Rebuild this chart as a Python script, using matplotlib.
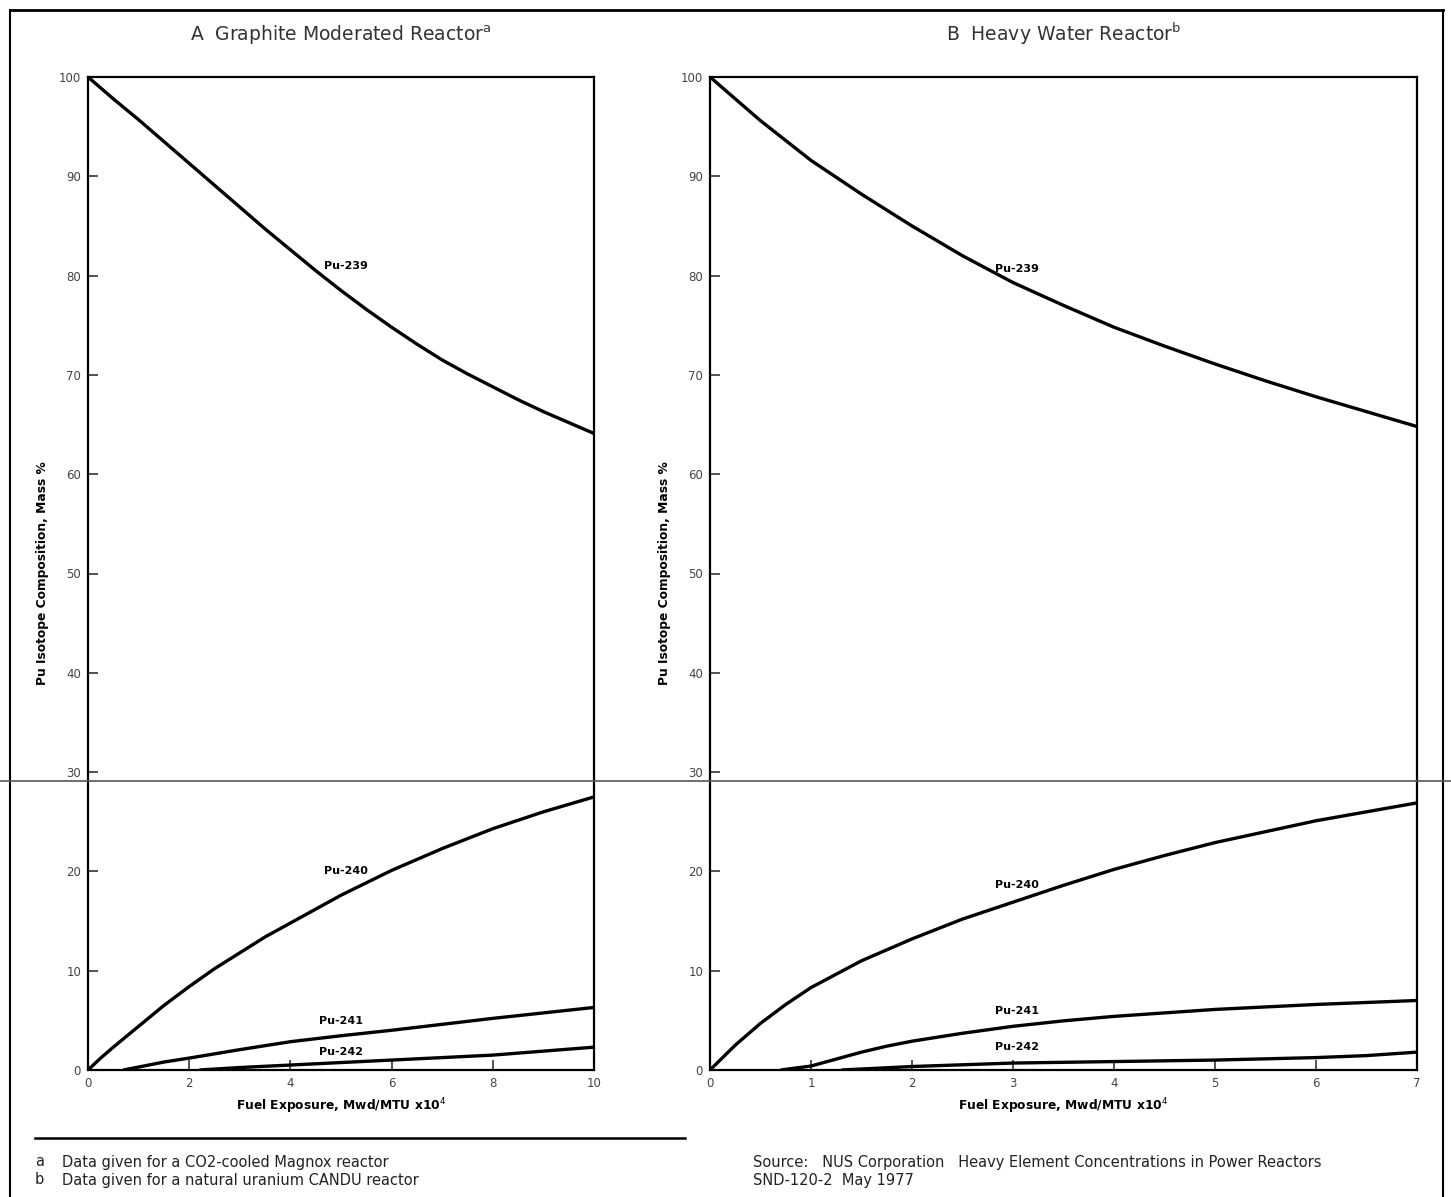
import matplotlib.pyplot as plt
from matplotlib.lines import Line2D

plt.rcParams['font.family'] = ['DejaVu Sans']

# A: graphite moderated reactor (exposure 0..10)
a_x239 = [0, 0.5, 1, 1.5, 2, 2.5, 3, 3.5, 4, 4.5, 5, 5.5, 6, 6.5, 7, 7.5, 8, 8.5, 9, 9.5, 10]
a_y239 = [100, 97.8, 95.7, 93.5, 91.3, 89.1, 86.9, 84.7, 82.6, 80.5, 78.5, 76.6, 74.8, 73.1,
          71.5, 70.1, 68.8, 67.5, 66.3, 65.2, 64.1]
a_x240 = [0, 0.25, 0.5, 1, 1.5, 2, 2.5, 3, 3.5, 4, 4.5, 5, 6, 7, 8, 9, 10]
a_y240 = [0, 1.2, 2.3, 4.4, 6.5, 8.4, 10.2, 11.8, 13.4, 14.8, 16.2, 17.6, 20.1, 22.3, 24.3, 26.0, 27.5]
a_x241 = [0.7, 1, 1.5, 2, 3, 4, 5, 6, 7, 8, 9, 10]
a_y241 = [0, 0.3, 0.8, 1.2, 2.05, 2.85, 3.45, 4.0, 4.6, 5.2, 5.75, 6.3]
a_x242 = [2.2, 3, 4, 5, 6, 7, 8, 9, 10]
a_y242 = [0, 0.25, 0.5, 0.75, 1.0, 1.25, 1.5, 1.9, 2.3]

# B: heavy water reactor (exposure 0..7)
b_x239 = [0, 0.25, 0.5, 0.75, 1, 1.5, 2, 2.5, 3, 3.5, 4, 4.5, 5, 5.5, 6, 6.5, 7]
b_y239 = [100, 97.8, 95.6, 93.6, 91.6, 88.2, 85.0, 82.0, 79.3, 77.0, 74.8, 72.9, 71.1, 69.4,
          67.8, 66.3, 64.8]
b_x240 = [0, 0.25, 0.5, 0.75, 1, 1.5, 2, 2.5, 3, 3.5, 4, 4.5, 5, 5.5, 6, 6.5, 7]
b_y240 = [0, 2.5, 4.7, 6.6, 8.3, 11.0, 13.2, 15.2, 16.9, 18.6, 20.2, 21.6, 22.9, 24.0, 25.1, 26.0, 26.9]
b_x241 = [0.7, 1, 1.25, 1.5, 1.75, 2, 2.5, 3, 3.5, 4, 5, 6, 7]
b_y241 = [0, 0.4, 1.1, 1.8, 2.4, 2.9, 3.7, 4.4, 4.95, 5.4, 6.1, 6.6, 7.0]
b_x242 = [1.3, 2, 3, 4, 5, 6, 6.5, 7]
b_y242 = [0, 0.35, 0.7, 0.85, 1.0, 1.25, 1.45, 1.8]

labels = ['Pu-239', 'Pu-240', 'Pu-241', 'Pu-242']
a_lab_x = [5.1, 5.1, 5.0, 5.0]
a_lab_y = [81.0, 20.0, 4.9, 1.8]
b_lab_x = [3.04, 3.04, 3.04, 3.04]
b_lab_y = [80.7, 18.6, 5.9, 2.3]

fig = plt.figure(figsize=(14.51, 11.97), dpi=100)
ax1 = fig.add_axes([88/1451, 1 - 1070/1197, 506/1451, 993/1197])
ax2 = fig.add_axes([710/1451, 1 - 1070/1197, 707/1451, 993/1197])

panels = [
    (ax1, [(a_x239, a_y239), (a_x240, a_y240), (a_x241, a_y241), (a_x242, a_y242)],
     a_lab_x, a_lab_y, 10, list(range(0, 11, 2)), 'A  Graphite Moderated Reactor$^{\\mathrm{a}}$'),
    (ax2, [(b_x239, b_y239), (b_x240, b_y240), (b_x241, b_y241), (b_x242, b_y242)],
     b_lab_x, b_lab_y, 7, list(range(0, 8)), 'B  Heavy Water Reactor$^{\\mathrm{b}}$'),
]

for ax, series, lx, ly, xmax, xt, title in panels:
    for (xs, ys) in series:
        ax.plot(xs, ys, color='black', lw=2.4, solid_capstyle='butt')
    for lab, x, y in zip(labels, lx, ly):
        ax.text(x, y, lab, fontsize=8, fontweight='bold', ha='center', va='center')
    ax.set_xlim(0, xmax)
    ax.set_ylim(0, 100)
    ax.set_xticks(xt)
    ax.set_yticks(range(0, 101, 10))
    ax.tick_params(direction='in', length=7, width=1.3, labelsize=8.5, colors='#444444', pad=5)
    for s in ax.spines.values():
        s.set_linewidth(1.6)
    ax.set_ylabel('Pu Isotope Composition, Mass %', fontsize=8.8, fontweight='bold', labelpad=7)
    ax.set_xlabel('Fuel Exposure, Mwd/MTU x10$^{4}$', fontsize=8.8, fontweight='bold', labelpad=5)
    ax.set_title(title, fontsize=13.5, pad=26, color='#333333')

# page frame
fig.add_artist(Line2D([10/1451, 1443/1451], [1 - 10/1197, 1 - 10/1197], color='black', lw=2))
fig.add_artist(Line2D([10/1451, 10/1451], [0, 1 - 10/1197], color='black', lw=1.5))
fig.add_artist(Line2D([1443/1451, 1443/1451], [0, 1 - 10/1197], color='black', lw=1.5))
# scan fold line
fig.add_artist(Line2D([0, 1], [1 - 781/1197, 1 - 781/1197], color='#555555', lw=1.2))
# footnote rule
fig.add_artist(Line2D([35/1451, 685/1451], [1 - 1138/1197, 1 - 1138/1197], color='black', lw=1.8))

fs = 10.5
fig.text(35/1451, 1 - 1162/1197, 'a', fontsize=fs, va='center', color='#222222')
fig.text(62/1451, 1 - 1162/1197, 'Data given for a CO2-cooled Magnox reactor', fontsize=fs,
         va='center', color='#222222')
fig.text(35/1451, 1 - 1180/1197, 'b', fontsize=fs, va='center', color='#222222')
fig.text(62/1451, 1 - 1180/1197, 'Data given for a natural uranium CANDU reactor', fontsize=fs,
         va='center', color='#222222')
fig.text(753/1451, 1 - 1162/1197,
         'Source:   NUS Corporation   Heavy Element Concentrations in Power Reactors',
         fontsize=fs, va='center', color='#222222')
fig.text(753/1451, 1 - 1180/1197, 'SND-120-2  May 1977', fontsize=fs, va='center', color='#222222')

fig.savefig('out.png', dpi=100, facecolor='white')
